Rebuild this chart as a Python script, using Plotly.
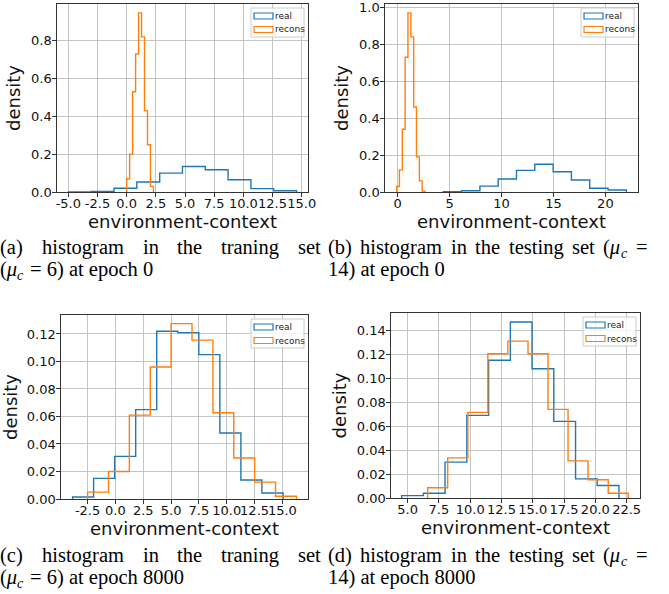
import plotly.graph_objects as go

W, H = 669, 594

# ---------------- data ----------------
# (a) training set, epoch 0
a_real_edges = [-4.99, -3.04, -1.08, 0.87, 2.83, 4.78, 6.74, 8.69, 10.65, 12.60, 14.56]
a_real_dens = [0.0005, 0.003, 0.020, 0.053, 0.100, 0.135, 0.118, 0.065, 0.018, 0.007]
a_recon_edges = [0.00, 0.255, 0.51, 0.765, 1.02, 1.275, 1.53, 1.785, 2.04, 2.295]
a_recon_dens = [0.07, 0.20, 0.53, 0.73, 0.947, 0.82, 0.43, 0.25, 0.03]

# (b) testing set, epoch 0
b_real_edges = [4.39, 6.15, 7.92, 9.68, 11.44, 13.20, 14.97, 16.73, 18.49, 20.26, 22.02]
b_real_dens = [0.002, 0.007, 0.032, 0.070, 0.117, 0.150, 0.110, 0.065, 0.020, 0.011]
b_recon_edges = [-0.10, 0.17, 0.45, 0.72, 0.99, 1.27, 1.54, 1.81, 2.09, 2.36, 2.63]
b_recon_dens = [0.03, 0.12, 0.34, 0.73, 0.97, 0.84, 0.46, 0.19, 0.06, 0.005]

# (c) training set, epoch 8000
c_real_edges = [-3.85, -1.96, -0.07, 1.82, 3.71, 5.60, 7.49, 9.38, 11.27, 13.16, 15.06]
c_real_dens = [0.0015, 0.015, 0.031, 0.065, 0.122, 0.121, 0.105, 0.048, 0.0138, 0.0044]
c_recon_edges = [-2.50, -0.62, 1.25, 3.13, 5.00, 6.88, 8.76, 10.63, 12.51, 14.38, 16.26]
c_recon_dens = [0.005, 0.020, 0.061, 0.096, 0.1275, 0.1155, 0.0627, 0.0298, 0.0123, 0.002]

# (d) testing set, epoch 8000
d_real_edges = [4.52, 6.26, 7.99, 9.73, 11.47, 13.21, 14.94, 16.68, 18.42, 20.15, 21.89]
d_real_dens = [0.002, 0.004, 0.030, 0.069, 0.115, 0.147, 0.108, 0.064, 0.016, 0.0105]
d_recon_edges = [6.60, 8.20, 9.81, 11.41, 13.01, 14.62, 16.22, 17.82, 19.42, 21.03, 22.63]
d_recon_dens = [0.0085, 0.0335, 0.0715, 0.1205, 0.131, 0.1205, 0.074, 0.031, 0.0153, 0.004]

# tick values / labels
a_xticks = [-5, -2.5, 0, 2.5, 5, 7.5, 10, 12.5, 15]
a_xlabels = ["-5.0", "-2.5", "0.0", "2.5", "5.0", "7.5", "10.0", "12.5", "15.0"]
a_yticks = [0, 0.2, 0.4, 0.6, 0.8]
a_ylabels = ["0.0", "0.2", "0.4", "0.6", "0.8"]
b_xticks = [0, 5, 10, 15, 20]
b_xlabels = ["0", "5", "10", "15", "20"]
b_yticks = [0, 0.2, 0.4, 0.6, 0.8, 1.0]
b_ylabels = ["0.0", "0.2", "0.4", "0.6", "0.8", "1.0"]
c_xticks = [-2.5, 0, 2.5, 5, 7.5, 10, 12.5, 15]
c_xlabels = ["-2.5", "0.0", "2.5", "5.0", "7.5", "10.0", "12.5", "15.0"]
c_yticks = [0, 0.02, 0.04, 0.06, 0.08, 0.10, 0.12]
c_ylabels = ["0.00", "0.02", "0.04", "0.06", "0.08", "0.10", "0.12"]
d_xticks = [5, 7.5, 10, 12.5, 15, 17.5, 20, 22.5]
d_xlabels = ["5.0", "7.5", "10.0", "12.5", "15.0", "17.5", "20.0", "22.5"]
d_yticks = [0, 0.02, 0.04, 0.06, 0.08, 0.10, 0.12, 0.14]
d_ylabels = ["0.00", "0.02", "0.04", "0.06", "0.08", "0.10", "0.12", "0.14"]

series_names = ["real", "recons"]
x_title = "environment-context"
y_title = "density"

# caption texts; "MU_C" marks the math symbol (mu with subscript c)
captions = [
    (["(a)", "histogram", "in", "the", "traning", "set"],
     ["MU_C", "= 6) at epoch 0"]),
    (["(b)", "histogram", "in", "the", "testing", "set", "MU_C", "="],
     ["14) at epoch 0"]),
    (["(c)", "histogram", "in", "the", "traning", "set"],
     ["MU_C", "= 6) at epoch 8000"]),
    (["(d)", "histogram", "in", "the", "testing", "set", "MU_C", "="],
     ["14) at epoch 8000"]),
]

# ---------------- style / layout ----------------
BLUE, ORANGE = "#1f77b4", "#ff7f0e"
SANS = "DejaVu Sans"
SERIF = "Liberation Serif"

# panel boxes in pixels: left, right, top, bottom
panels = [
    dict(box=(57, 308, 4, 192), xr=(-5.97, 15.54), yr=(0, 0.994),
         real=(a_real_edges, a_real_dens), recon=(a_recon_edges, a_recon_dens),
         xt=(a_xticks, a_xlabels), yt=(a_yticks, a_ylabels)),
    dict(box=(385, 638, 4, 192), xr=(-1.22, 23.14), yr=(0, 1.018),
         real=(b_real_edges, b_real_dens), recon=(b_recon_edges, b_recon_dens),
         xt=(b_xticks, b_xlabels), yt=(b_yticks, b_ylabels)),
    dict(box=(61, 308, 315, 499), xr=(-4.89, 17.30), yr=(0, 0.1338),
         real=(c_real_edges, c_real_dens), recon=(c_recon_edges, c_recon_dens),
         xt=(c_xticks, c_xlabels), yt=(c_yticks, c_ylabels)),
    dict(box=(391, 640, 313, 498), xr=(3.67, 23.57), yr=(0, 0.1545),
         real=(d_real_edges, d_real_dens), recon=(d_recon_edges, d_recon_dens),
         xt=(d_xticks, d_xlabels), yt=(d_yticks, d_ylabels)),
]

# caption layout: (left, right, baseline line1, baseline line2)
cap_geom = [(0, 321, 254.5, 276.5), (328, 648, 254.5, 276.5),
            (0, 321, 562.5, 584.5), (328, 648, 562.5, 584.5)]
CAP_FS = 20.5
SUB_FS = 14

TIMES_W = {' ': 250, '(': 333, ')': 333, 'a': 444, 'b': 500, 'c': 444, 'd': 500,
           'e': 444, 'g': 500, 'h': 500, 'i': 278, 'm': 778, 'n': 500, 'o': 500,
           'p': 500, 'r': 333, 's': 389, 't': 278, '=': 564}
MU_W = (333 + 520) / 1000 * CAP_FS       # "(" + italic mu
SUBC_W = 444 / 1000 * SUB_FS + 1.0       # italic subscript c


def word_width(w):
    if w == "MU_C":
        return MU_W + SUBC_W
    return sum(TIMES_W.get(ch, 500) for ch in w) / 1000 * CAP_FS


def px_x(px):
    return px / W


def px_y(py):
    return 1 - py / H


def step_xy(edges, dens):
    x = [edges[0]] + list(edges)
    y = [0] + list(dens) + [0]
    return x, y


fig = go.Figure()
layout = dict(template="none", width=W, height=H, autosize=False,
              margin=dict(l=0, r=0, t=0, b=0, pad=0),
              paper_bgcolor="white", plot_bgcolor="white", showlegend=False)
shapes, annotations = [], []


def add_text(x, base, text, size=CAP_FS):
    annotations.append(dict(text=text, xref="paper", yref="paper",
                            x=px_x(x), y=px_y(base - 0.891 * size),
                            xanchor="left", yanchor="top", showarrow=False,
                            borderpad=0, borderwidth=0,
                            font=dict(family=SERIF, size=size, color="black")))


def add_word(x, base, w):
    if w == "MU_C":
        add_text(x, base, "(<i>μ</i>")
        add_text(x + MU_W, base + 0.2 * CAP_FS, "<i>c</i>", size=SUB_FS)
    else:
        add_text(x, base, w)


axis_common = dict(showline=True, linecolor="#333333", linewidth=1.3, mirror=True,
                   ticks="outside", ticklen=3.5, tickwidth=1, tickcolor="#333333",
                   showgrid=True, gridcolor="#c4c4c4", gridwidth=1, zeroline=False,
                   tickfont=dict(family=SANS, size=13, color="#111111"),
                   tickangle=0, tickmode="array", fixedrange=True, automargin=False)

for i, p in enumerate(panels):
    n = "" if i == 0 else str(i + 1)
    l, r, t, b = p["box"]
    for (edges, dens), color, name in [(p["real"], BLUE, series_names[0]),
                                       (p["recon"], ORANGE, series_names[1])]:
        x, y = step_xy(edges, dens)
        fig.add_trace(go.Scatter(x=x, y=y, mode="lines", name=name,
                                 line=dict(color=color, width=1.4, shape="hv"),
                                 xaxis="x" + n, yaxis="y" + n, hoverinfo="x+y"))
    layout["xaxis" + n] = dict(axis_common, domain=[px_x(l), px_x(r)], anchor="y" + n,
                               range=list(p["xr"]), tickvals=p["xt"][0], ticktext=p["xt"][1],
                               ticklabelstandoff=-4,
                               title=dict(text=x_title, standoff=3,
                                          font=dict(family=SANS, size=18, color="#111111")))
    layout["yaxis" + n] = dict(axis_common, domain=[px_y(b), px_y(t)], anchor="x" + n,
                               range=list(p["yr"]), tickvals=p["yt"][0], ticktext=p["yt"][1],
                               ticklabelstandoff=-2,
                               title=dict(text=y_title, standoff=5,
                                          font=dict(family=SANS, size=18, color="#111111")))

    # legend (matplotlib style: outlined patches in a light box)
    bx1, by0 = r - 4, t + 4
    bx0, by1 = bx1 - 53, by0 + 29
    shapes.append(dict(type="rect", xref="paper", yref="paper",
                       x0=px_x(bx0), x1=px_x(bx1), y0=px_y(by1), y1=px_y(by0),
                       line=dict(color="#cccccc", width=1), fillcolor="rgba(255,255,255,0.8)"))
    for k, (name, color) in enumerate(zip(series_names, [BLUE, ORANGE])):
        cy = by0 + 8 + 13.5 * k
        shapes.append(dict(type="rect", xref="paper", yref="paper",
                           x0=px_x(bx0 + 3), x1=px_x(bx0 + 22),
                           y0=px_y(cy + 3), y1=px_y(cy - 3),
                           line=dict(color=color, width=1.2), fillcolor="rgba(0,0,0,0)"))
        annotations.append(dict(text=name, xref="paper", yref="paper",
                                x=px_x(bx0 + 24), y=px_y(cy), xanchor="left", yanchor="middle",
                                showarrow=False, borderpad=0, borderwidth=0,
                                font=dict(family=SANS, size=9, color="#222222")))

# captions: first line justified, second line natural spacing
SPACE = 0.25 * CAP_FS
for (words, line2), (x0, x1, base1, base2) in zip(captions, cap_geom):
    widths = [word_width(w) for w in words]
    gap = (x1 - x0 - sum(widths)) / (len(words) - 1)
    xpos = x0
    for w, ww in zip(words, widths):
        add_word(xpos, base1, w)
        xpos += ww + gap
    xpos = x0
    for w in line2:
        add_word(xpos, base2, w)
        xpos += word_width(w) + SPACE

layout["shapes"] = shapes
layout["annotations"] = annotations
fig.update_layout(**layout)
fig.write_html("out.html", config={"displayModeBar": False, "staticPlot": False},
               post_script="document.body.style.margin='0px';document.body.style.overflow='hidden';")
